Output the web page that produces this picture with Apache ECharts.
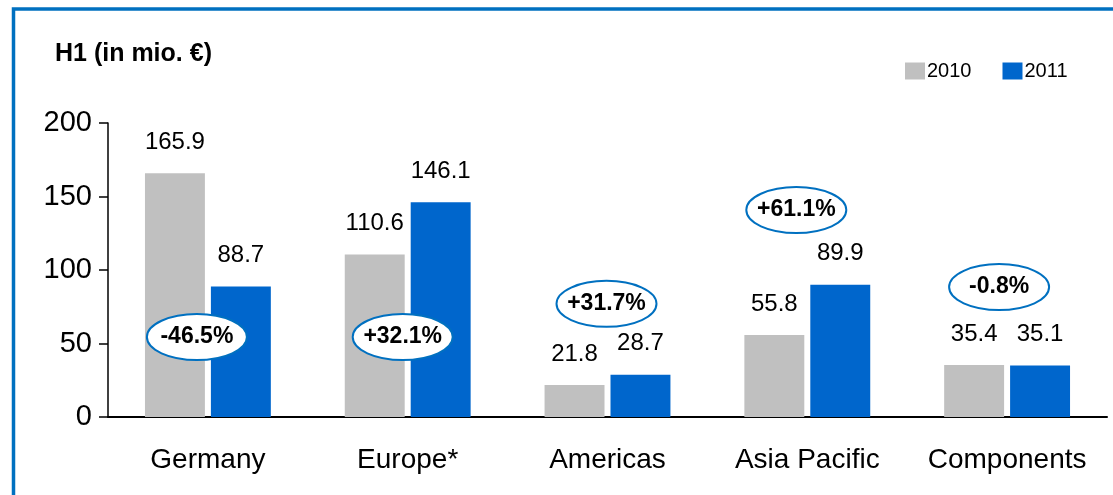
<!DOCTYPE html>
<html>
<head>
<meta charset="utf-8">
<script src="https://cdn.jsdelivr.net/npm/echarts@6/dist/echarts.min.js"></script>
<style>
  html, body { margin: 0; padding: 0; background: #ffffff; }
  #chart { width: 1113px; height: 495px; }
</style>
</head>
<body>
<div id="chart"></div>
<script>
// Regional sales, first half-year, in million euro
const categories = ['Germany', 'Europe*', 'Americas', 'Asia Pacific', 'Components'];
const values2010 = [165.9, 110.6, 21.8, 55.8, 35.4];
const values2011 = [88.7, 146.1, 28.7, 89.9, 35.1];
const seriesNames = ['2010', '2011'];
const yTicks = { min: 0, max: 200, interval: 50 };

// Year-on-year change shown in the ovals, derived from the two years
function fmtChange(a, b) {
  const pct = (b / a - 1) * 100;
  return (pct >= 0 ? '+' : '') + pct.toFixed(1) + '%';
}
const changeLabels = values2010.map((v, i) => fmtChange(v, values2011[i]));

// Oval placement: vertical anchor on the value scale and horizontal nudge in px
const ovalAnchorY = [54.4, 54.4, 77, 140.8, 88.4];
const ovalNudgeX = [-11, -5, -1, -11, -8];

const FONT = '"Liberation Sans", Arial, sans-serif';
const GREY = '#C0C0C0';
const BLUE = '#0066CC';
const FRAME = '#0070C0';

const chart = echarts.init(document.getElementById('chart'), null, { renderer: 'canvas' });

const valueLabel = {
  show: true,
  position: 'top',
  distance: 19,
  fontFamily: FONT,
  fontSize: 24,
  color: '#000'
};

chart.setOption({
  animation: false,
  backgroundColor: '#ffffff',
  textStyle: { fontFamily: FONT },
  title: {
    text: 'H1 (in mio. €)',
    left: 50,
    top: 37,
    textStyle: { fontFamily: FONT, fontSize: 25, fontWeight: 'bold', color: '#000' }
  },
  legend: {
    data: seriesNames,
    left: 900,
    top: 56,
    itemWidth: 20,
    itemHeight: 17,
    itemGap: 31,
    icon: 'rect',
    textStyle: { fontFamily: FONT, fontSize: 20, color: '#000', padding: [0, 0, 0, -3] }
  },
  grid: { left: 108, right: 6, top: 123, bottom: 78, containLabel: false },
  xAxis: {
    type: 'category',
    data: categories,
    axisLine: { lineStyle: { color: '#000', width: 2 } },
    axisTick: { show: false },
    axisLabel: { interval: 0, fontFamily: FONT, fontSize: 28, color: '#000', margin: 29 }
  },
  yAxis: {
    type: 'value',
    min: yTicks.min,
    max: yTicks.max,
    interval: yTicks.interval,
    axisLine: { show: true, lineStyle: { color: '#000', width: 1.5 } },
    axisTick: { show: true, length: 9, lineStyle: { color: '#000', width: 1.5 } },
    splitLine: { show: false },
    axisLabel: { fontFamily: FONT, fontSize: 29, color: '#000', margin: 16 }
  },
  series: [
    {
      name: seriesNames[0],
      type: 'bar',
      data: values2010,
      itemStyle: { color: GREY },
      barGap: '10%',
      barCategoryGap: '37%',
      label: valueLabel
    },
    {
      name: seriesNames[1],
      type: 'bar',
      data: values2011,
      itemStyle: { color: BLUE },
      barGap: '10%',
      barCategoryGap: '37%',
      label: valueLabel
    },
    {
      name: 'change',
      type: 'custom',
      data: categories.map((c, i) => [i, ovalAnchorY[i]]),
      z: 10,
      silent: true,
      renderItem: function (params, api) {
        const i = params.dataIndex;
        const p = api.coord([api.value(0), api.value(1)]);
        return {
          type: 'ellipse',
          shape: { cx: p[0] + ovalNudgeX[i], cy: p[1], rx: 50, ry: 23 },
          style: { fill: '#fff', stroke: FRAME, lineWidth: 2 },
          textContent: {
            style: {
              text: changeLabels[i],
              fontFamily: FONT,
              fontSize: 23,
              fontWeight: 'bold',
              fill: '#000'
            }
          },
          textConfig: { position: 'inside' }
        };
      }
    }
  ],
  graphic: [
    {
      type: 'polyline',
      shape: { points: [[13.5, 495], [13.5, 9], [1113, 9]] },
      style: { stroke: FRAME, lineWidth: 3.5, fill: null },
      silent: true
    }
  ]
});
</script>
</body>
</html>
